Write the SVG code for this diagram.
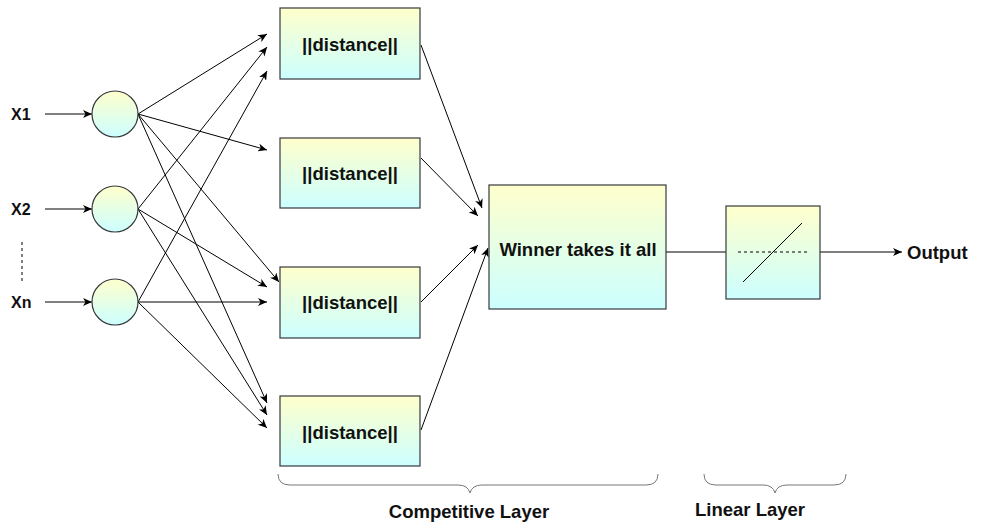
<svg xmlns="http://www.w3.org/2000/svg" width="984" height="522" viewBox="0 0 984 522">
<defs>
<linearGradient id="g" x1="0" y1="0" x2="0" y2="1">
<stop offset="0" stop-color="#FFFFCC"/>
<stop offset="1" stop-color="#CCFFFF"/>
</linearGradient>
<marker id="arr" markerWidth="10" markerHeight="8" refX="9" refY="4" orient="auto" markerUnits="userSpaceOnUse">
<path d="M0,0 L9,4 L0,8 L2.5,4 Z" fill="#000"/>
</marker>
<style>
.box{fill:url(#g);stroke:#36393d;stroke-width:1.2}
.lbl{font-family:"Liberation Sans",Arial,sans-serif;font-weight:bold;font-size:18.5px;fill:#111;text-anchor:middle;dominant-baseline:central}
.in{font-family:"Liberation Sans",Arial,sans-serif;font-weight:bold;font-size:16px;fill:#111;dominant-baseline:central}
.c{stroke:#000;stroke-width:1;fill:none}
.ca{stroke:#000;stroke-width:1;fill:none;marker-end:url(#arr)}
.brace{stroke:#777;stroke-width:1;fill:none}
</style>
</defs>
<rect width="984" height="522" fill="#fff"/>

<g id="connectors">
<line class="ca" x1="45" y1="114" x2="92" y2="114"/>
<line class="ca" x1="45" y1="209" x2="92" y2="209"/>
<line class="ca" x1="45" y1="302" x2="92" y2="302"/>
<line x1="22" y1="242" x2="22" y2="281" stroke="#000" stroke-width="1" stroke-dasharray="3,3"/>

<line class="ca" x1="138" y1="114" x2="267" y2="34"/>
<line class="ca" x1="138" y1="114" x2="267" y2="150"/>
<line class="ca" x1="138" y1="114" x2="279" y2="282"/>
<line class="ca" x1="138" y1="114" x2="267" y2="403"/>

<line class="ca" x1="138" y1="209" x2="267" y2="47"/>
<line class="ca" x1="138" y1="209" x2="267" y2="287"/>
<line class="ca" x1="138" y1="209" x2="267" y2="415"/>

<line class="ca" x1="138" y1="302" x2="267" y2="71"/>
<line class="ca" x1="138" y1="302" x2="267" y2="302"/>
<line class="ca" x1="138" y1="302" x2="267" y2="428"/>

<line class="ca" x1="421" y1="45" x2="482" y2="208"/>
<line class="ca" x1="421" y1="158" x2="478" y2="216"/>
<line class="ca" x1="421" y1="302" x2="478" y2="245"/>
<line class="ca" x1="421" y1="430" x2="488" y2="248"/>

<line class="c" x1="666" y1="252" x2="726" y2="252"/>
<line class="ca" x1="820" y1="252" x2="902" y2="252"/>
</g>

<g id="in-x1"><text class="in" x="11" y="114">X1</text></g>
<g id="in-x2"><text class="in" x="11" y="209">X2</text></g>
<g id="in-xn"><text class="in" x="11" y="302">Xn</text></g>

<g id="n1"><circle class="box" cx="115" cy="114" r="23"/></g>
<g id="n2"><circle class="box" cx="115" cy="209" r="23"/></g>
<g id="n3"><circle class="box" cx="115" cy="302" r="23"/></g>

<g id="d1"><rect class="box" x="280" y="8" width="140" height="71"/><text class="lbl" x="350" y="44">||distance||</text></g>
<g id="d2"><rect class="box" x="280" y="138" width="140" height="70"/><text class="lbl" x="350" y="173">||distance||</text></g>
<g id="d3"><rect class="box" x="280" y="267" width="140" height="71"/><text class="lbl" x="350" y="302">||distance||</text></g>
<g id="d4"><rect class="box" x="280" y="396" width="140" height="70"/><text class="lbl" x="350" y="432">||distance||</text></g>

<g id="winner"><rect class="box" x="489" y="185" width="177" height="124"/><text class="lbl" x="578" y="249">Winner takes it all</text></g>

<g id="linear">
<rect class="box" x="726" y="206" width="94" height="93"/>
<line x1="738" y1="252" x2="808" y2="252" stroke="#000" stroke-width="1" stroke-dasharray="3,3"/>
<line x1="743" y1="282" x2="802" y2="223" stroke="#000" stroke-width="1"/>
</g>

<g id="output"><text class="in" x="907" y="252" style="font-size:18.5px">Output</text></g>

<g id="brace-comp">
<path class="brace" d="M278,474 Q278,485 290,485 L458,485 Q468,485 470,493 Q472,485 482,485 L646,485 Q658,485 658,474"/>
<text class="lbl" x="469" y="511">Competitive Layer</text>
</g>
<g id="brace-lin">
<path class="brace" d="M704,474 Q704,485 716,485 L763,485 Q773,485 775,493 Q777,485 787,485 L834,485 Q846,485 846,474"/>
<text class="lbl" x="750" y="509">Linear Layer</text>
</g>
</svg>
